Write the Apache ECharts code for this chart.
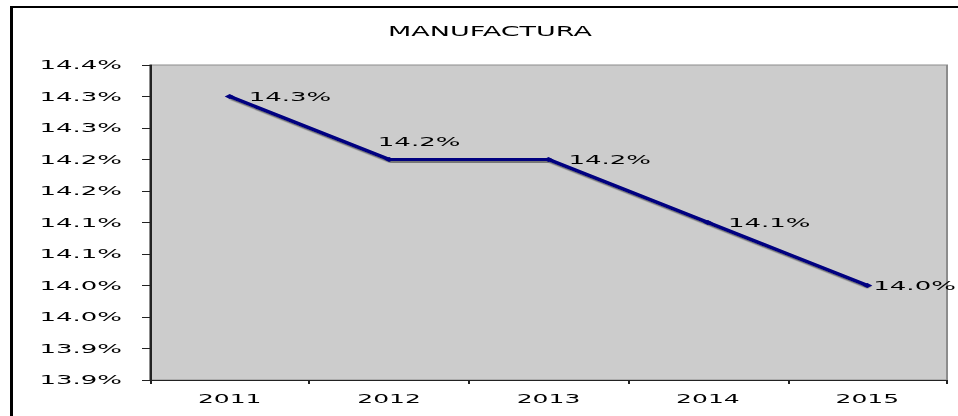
<!DOCTYPE html>
<html>
<head>
<meta charset="utf-8">
<script src="https://cdn.jsdelivr.net/npm/echarts@6/dist/echarts.min.js"></script>
<style>
  html, body { margin: 0; padding: 0; background: #ffffff; overflow: hidden; }
  body { width: 958px; height: 416px; position: relative; }
  /* The chart is laid out at half width and stretched 2x horizontally,
     giving the wide, extended lettering of the original sheet.
     The drawing surface runs a little past the right edge of the view. */
  #chart {
    position: absolute;
    left: 0;
    top: 0;
    width: 490px;
    height: 416px;
    transform: scaleX(2);
    transform-origin: 0 0;
  }
  /* Sheet frame: only its left and top edges fall inside the view */
  #frame {
    position: absolute;
    left: 10px;
    top: 6px;
    width: 1200px;
    height: 600px;
    border-left: 3px solid #000000;
    border-top: 2px solid #000000;
    pointer-events: none;
  }
</style>
</head>
<body>
<div id="chart"></div>
<div id="frame"></div>
<script>
// Share of manufacturing, by year (%)
const years = ['2011', '2012', '2013', '2014', '2015'];
const manufactura = [14.3, 14.2, 14.2, 14.1, 14.0];

// Value axis: 13.85 .. 14.35 every 0.05, labelled at one decimal
const yMin = 13.85;
const yMax = 14.35;
const yStep = 0.05;
const yTickLabels = ['13.9%', '13.9%', '14.0%', '14.0%', '14.1%', '14.1%',
                     '14.2%', '14.2%', '14.3%', '14.3%', '14.4%'];

// Per-point label placement (distance from the marker, in unscaled px)
const labelPlacement = [
  { position: 'right', distance: 7 },
  { position: 'top', distance: 9, offset: [15, 0] },
  { position: 'right', distance: 7.5 },
  { position: 'right', distance: 7.5 },
  { position: 'right', distance: 0.5 }
];

const FONT = '"DejaVu Sans", Verdana, sans-serif';

const chart = echarts.init(document.getElementById('chart'), null, { renderer: 'svg' });

chart.setOption({
  animation: false,
  backgroundColor: '#ffffff',
  title: {
    text: 'MANUFACTURA',
    left: 240,
    top: 19,
    textAlign: 'center',
    textStyle: { fontFamily: FONT, fontSize: 13.5, fontWeight: 'normal', color: '#000000' }
  },
  grid: {
    left: 75,
    right: 16.5,
    top: 65,
    bottom: 36,
    show: true,
    backgroundColor: '#cccccc',
    borderColor: '#8c8c8c',
    borderWidth: 1
  },
  xAxis: {
    type: 'category',
    data: years,
    boundaryGap: true,
    axisLine: { show: true, lineStyle: { color: '#222222', width: 1 } },
    axisTick: { show: true, length: 4, lineStyle: { color: '#222222' } },
    axisLabel: { margin: 12, fontFamily: FONT, fontSize: 12.5, color: '#000000' },
    splitLine: { show: false }
  },
  yAxis: {
    type: 'value',
    min: yMin,
    max: yMax,
    interval: yStep,
    axisLine: { show: true, lineStyle: { color: '#222222', width: 1 } },
    axisTick: { show: true, length: 4, lineStyle: { color: '#222222' } },
    axisLabel: {
      margin: 14,
      fontFamily: FONT,
      fontSize: 13,
      color: '#000000',
      formatter: function (v) {
        const i = Math.round((v - yMin) / yStep);
        return yTickLabels[i] !== undefined ? yTickLabels[i] : '';
      }
    },
    splitLine: { show: false }
  },
  series: [{
    name: 'MANUFACTURA',
    type: 'line',
    data: manufactura.map(function (v, i) {
      return { value: v, label: labelPlacement[i] };
    }),
    symbol: 'diamond',
    symbolSize: 5,
    showSymbol: true,
    itemStyle: { color: '#000080' },
    lineStyle: {
      color: '#000080',
      width: 3,
      shadowColor: 'rgba(110,110,110,0.9)',
      shadowBlur: 1,
      shadowOffsetX: 1,
      shadowOffsetY: 2
    },
    label: {
      show: true,
      fontFamily: FONT,
      fontSize: 13,
      color: '#000000',
      formatter: function (p) { return p.value.toFixed(1) + '%'; }
    },
    z: 5
  }]
});
</script>
</body>
</html>
